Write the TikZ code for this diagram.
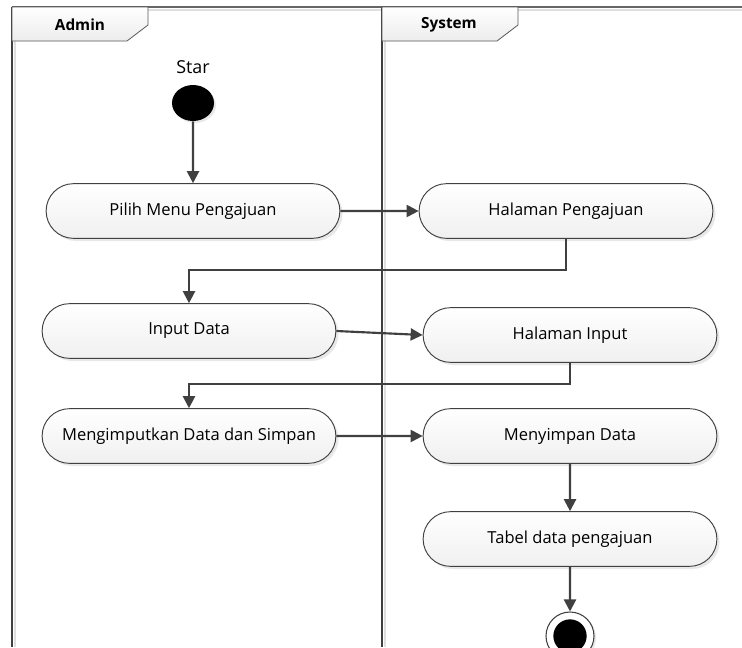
\documentclass[tikz,border=0pt]{standalone}
\usepackage{fontspec}
\setmainfont{Open Sans}
\usetikzlibrary{shapes.misc,shapes.geometric,arrows.meta,shadows}
\definecolor{ln}{HTML}{404040}
\tikzset{
  act/.style={rounded rectangle, draw=ln, line width=0.7pt, minimum width=227pt, minimum height=41pt,
    top color=white, bottom color=gray!12, font=\fontsize{12.4}{15}\selectfont, text=black,
    drop shadow={shadow xshift=2pt, shadow yshift=-2pt, fill=gray!50, opacity=0.35}},
  arr/.style={draw=ln, line width=1.6pt, -{Triangle[length=9pt,width=9pt]}},
  lane/.style={draw=ln, line width=1pt},
  laneshadow/.style={draw=gray!25, line width=1.5pt},
  hdr/.style={draw=gray!70!black, line width=0.6pt, top color=white, bottom color=gray!15},
  hdrtext/.style={font=\bfseries\fontsize{11.5}{14}\selectfont, text=black}
}
\begin{document}
\begin{tikzpicture}[x=0.75pt,y=-0.75pt]
\useasboundingbox (0,0) rectangle (742,647);
\fill[white] (0,0) rectangle (742,647);
% lanes
\draw[laneshadow] (15,41) -- (15,647);
\draw[laneshadow] (385,41) -- (385,647);
\draw[laneshadow] (148,9.5) -- (742,9.5);
\draw[draw=gray!80!black, line width=0.8pt] (12,7) -- (742,7);
\draw[lane] (12,7) -- (12,647);
\draw[lane] (382,7) -- (382,647);
\draw[hdr] (12,7) -- (148,7) -- (148,25) -- (127,41) -- (12,41) -- cycle;
\draw[hdr] (382,7) -- (518,7) -- (518,25) -- (497,41) -- (382,41) -- cycle;
\node[hdrtext] (hadmin) at (80,25) {Admin};
\node[hdrtext] (hsys) at (449,25) {System};
% start
\node[font=\fontsize{13.4}{16}\selectfont] (lblstar) at (193,67) {Star};
\node[ellipse, fill=black, minimum width=31.5pt, minimum height=27pt, inner sep=0pt,
  drop shadow={shadow xshift=1.5pt, shadow yshift=-1.5pt, fill=gray!50, opacity=0.35}] (start) at (193,103) {};
% activities
\node[act] (pilih) at (193,211) {Pilih Menu Pengajuan};
\node[act] (hpeng) at (566,211) {Halaman Pengajuan};
\node[act] (input) at (189,331) {Input Data};
\node[act] (hinput) at (570,335) {Halaman Input};
\node[act] (mengi) at (189,436) {Mengimputkan Data dan Simpan};
\node[act] (simpan) at (570,436) {Menyimpan Data};
\node[act] (tabel) at (570,539) {Tabel data pengajuan};
% end
\node[circle, draw=ln, line width=0.8pt, fill=white, minimum size=36pt, inner sep=0pt,
  drop shadow={shadow xshift=1.5pt, shadow yshift=-1.5pt, fill=gray!50, opacity=0.35}] (endo) at (570,636) {};
\node[circle, fill=black, minimum size=25pt, inner sep=0pt] (endi) at (570,636) {};
% connectors
\coordinate (t1) at (189,270);
\coordinate (t2) at (189,384);
\draw[arr] (start) -- (pilih);
\draw[arr] (pilih) -- (hpeng);
\draw[arr] (hpeng.south) |- (t1) -- (input.north);
\draw[arr] (input.east) -- (hinput.west);
\draw[arr] (hinput.south) |- (t2) -- (mengi.north);
\draw[arr] (mengi) -- (simpan);
\draw[arr] (simpan) -- (tabel);
\draw[arr] (tabel) -- (endo);
\end{tikzpicture}
\end{document}
